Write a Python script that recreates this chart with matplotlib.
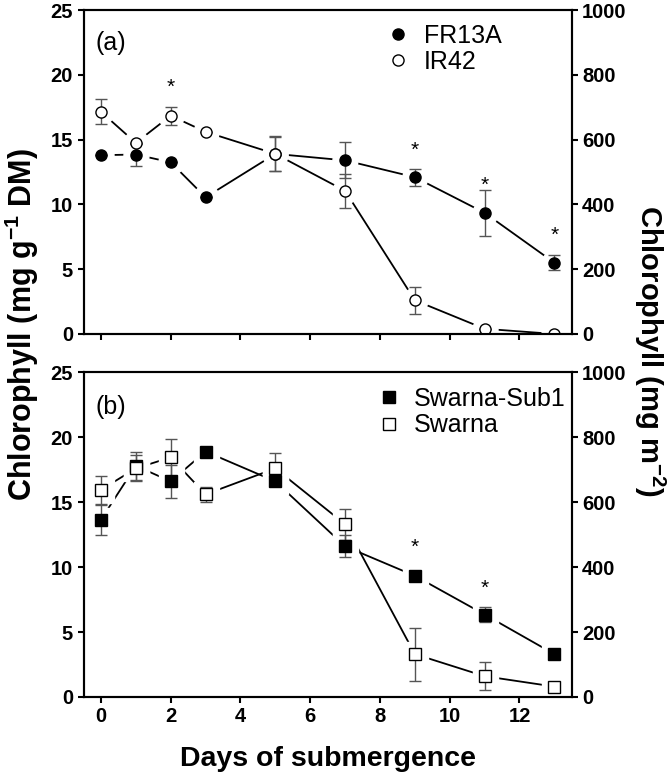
import numpy as np
import matplotlib
matplotlib.use("Agg")
import matplotlib.pyplot as plt
from matplotlib.lines import Line2D

plt.rcParams["font.family"] = ["Liberation Sans", "DejaVu Sans"]
plt.rcParams["mathtext.fontset"] = "custom"
plt.rcParams["mathtext.rm"] = "Liberation Sans"
plt.rcParams["mathtext.bf"] = "Liberation Sans:bold"

# ---------------------------------------------------------
# data
# ---------------------------------------------------------
days = [0, 1, 2, 3, 5, 7, 9, 11, 13]

fr13a = [13.8, 13.85, 13.25, 10.55, 13.9, 13.4, 12.1, 9.35, 5.5]
fr13a_err = [0.0, 0.85, 0.0, 0.0, 1.35, 1.4, 0.65, 1.75, 0.6]
ir42 = [17.15, 14.75, 16.85, 15.6, 13.9, 11.05, 2.6, 0.4, 0.0]
ir42_err = [0.95, 0.0, 0.7, 0.0, 1.3, 1.3, 1.05, 0.0, 0.0]

sub1 = [13.65, 17.8, 16.6, 18.9, 16.6, 11.6, 9.33, 6.35, 3.3]
sub1_err = [1.15, 1.1, 1.25, 0.3, 0.0, 0.85, 0.0, 0.6, 0.0]
swarna = [15.95, 17.6, 18.45, 15.6, 17.6, 13.3, 3.3, 1.6, 0.8]
swarna_err = [1.1, 1.0, 1.4, 0.6, 1.2, 1.2, 2.05, 1.1, 0.0]

stars_a_x = [2, 9, 11, 13]
stars_a_y = [19.0, 14.2, 11.5, 7.6]
stars_b_x = [9, 11]
stars_b_y = [11.5, 8.4]

xticks = [0, 2, 4, 6, 8, 10, 12]
yticks_left = [0, 5, 10, 15, 20, 25]
yticks_right = [0, 200, 400, 600, 800, 1000]

# ---------------------------------------------------------
# helpers
# ---------------------------------------------------------
ERRC = "#555555"


def draw_series(ax, x, y, err, marker, face):
    ax.plot(x, y, "-", color="black", lw=1.3, zorder=1)
    # white halo so the line stops short of each marker
    ax.plot(x, y, ls="none", marker=marker, ms=18, mfc="white",
            mec="white", zorder=2)
    ax.errorbar(x, y, yerr=err, fmt="none", ecolor=ERRC, elinewidth=1.0,
                capsize=4.5, capthick=1.0, zorder=3)
    ax.plot(x, y, ls="none", marker=marker, ms=8, mfc=face,
            mec="black", mew=1.0, zorder=4)


def style_axes(ax):
    for sp in ax.spines.values():
        sp.set_linewidth(1.5)
    ax.set_xlim(-0.5, 13.5)
    ax.set_ylim(0, 25)
    ax.set_xticks(xticks)
    ax.set_yticks(yticks_left)
    ax.tick_params(direction="out", length=4.5, width=1.5,
                   labelsize=14.5, pad=3)
    for lab in ax.get_yticklabels() + ax.get_xticklabels():
        lab.set_fontweight("bold")
    axr = ax.twinx()
    axr.set_ylim(0, 1000)
    axr.set_yticks(yticks_right)
    axr.tick_params(direction="out", length=4.5, width=1.5,
                    labelsize=14.5, pad=3)
    for lab in axr.get_yticklabels():
        lab.set_fontweight("bold")
    for sp in axr.spines.values():
        sp.set_linewidth(1.5)
    return axr


fig = plt.figure(figsize=(6.68, 7.74), dpi=100)
ax1 = fig.add_axes([0.125, 0.5685, 0.731, 0.4185])
ax2 = fig.add_axes([0.125, 0.0995, 0.731, 0.4195])

# ---------------------------------------------------------
# (a) FR13A / IR42
# ---------------------------------------------------------
draw_series(ax1, days, fr13a, fr13a_err, "o", "black")
draw_series(ax1, days, ir42, ir42_err, "o", "white")
style_axes(ax1)
ax1.tick_params(axis="x", labelbottom=False)
for sx, sy in zip(stars_a_x, stars_a_y):
    ax1.text(sx, sy, "*", ha="center", va="center", fontsize=15)
ax1.text(0.025, 0.898, "(a)", transform=ax1.transAxes, fontsize=18,
         va="center", ha="left")
h_a = [Line2D([], [], ls="none", marker="o", ms=8, mfc="black", mec="black"),
       Line2D([], [], ls="none", marker="o", ms=8, mfc="white", mec="black")]
ax1.legend(h_a, ["FR13A", "IR42"], loc="upper left",
           bbox_to_anchor=(0.618, 0.958), frameon=False, fontsize=18,
           handlelength=1.0, handletextpad=0.55, labelspacing=0.1,
           borderpad=0, borderaxespad=0)

# ---------------------------------------------------------
# (b) Swarna-Sub1 / Swarna
# ---------------------------------------------------------
draw_series(ax2, days, sub1, sub1_err, "s", "black")
draw_series(ax2, days, swarna, swarna_err, "s", "white")
style_axes(ax2)
for sx, sy in zip(stars_b_x, stars_b_y):
    ax2.text(sx, sy, "*", ha="center", va="center", fontsize=15)
ax2.text(0.025, 0.892, "(b)", transform=ax2.transAxes, fontsize=18,
         va="center", ha="left")
h_b = [Line2D([], [], ls="none", marker="s", ms=8, mfc="black", mec="black"),
       Line2D([], [], ls="none", marker="s", ms=8, mfc="white", mec="black")]
ax2.legend(h_b, ["Swarna-Sub1", "Swarna"], loc="upper left",
           bbox_to_anchor=(0.6, 0.955), frameon=False, fontsize=18,
           handlelength=1.0, handletextpad=0.5, labelspacing=0.1,
           borderpad=0, borderaxespad=0)
ax2.set_xlabel("Days of submergence", fontsize=20.5, fontweight="bold",
               labelpad=14)

fig.text(0.033, 0.581, r"Chlorophyll (mg g$^{\mathbf{-1}}$ DM)", rotation=90,
         ha="center", va="center", fontsize=22, fontweight="bold")
fig.text(0.972, 0.546, r"Chlorophyll (mg m$^{\mathbf{-2}}$)", rotation=270,
         ha="center", va="center", fontsize=21, fontweight="bold")

fig.savefig("out.png", dpi=100)
